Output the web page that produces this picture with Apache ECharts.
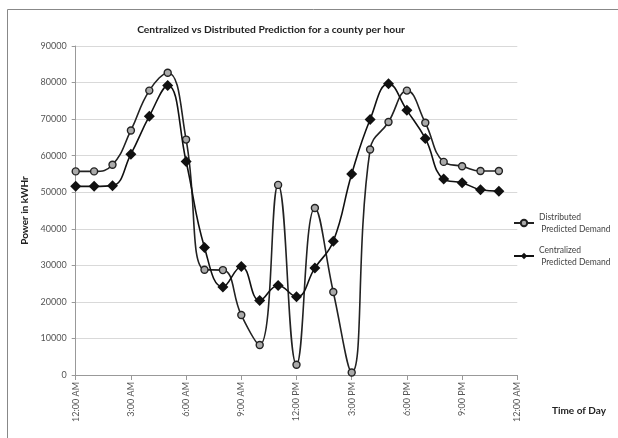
<!DOCTYPE html>
<html>
<head>
<meta charset="utf-8">
<script src="https://cdn.jsdelivr.net/npm/echarts@6/dist/echarts.min.js"></script>
<style>
  html, body { margin: 0; padding: 0; background: #fff; }
  #chart { width: 618px; height: 438px; }
</style>
</head>
<body>
<div id="chart"></div>
<script>
// Hour of day for each sample (0 = midnight)
const hours = [0, 1, 2, 3, 4, 5, 6, 7, 8, 9, 10, 11, 12, 13, 14, 15, 16, 17, 18, 19, 20, 21, 22, 23];

// Predicted demand in kWHr per hour
const distributed = [55700, 55700, 57500, 66900, 77800, 82700, 64400, 28800, 28700, 16400, 8200, 52000,
                     2800, 45700, 22700, 700, 61700, 69200, 77800, 69000, 58300, 57100, 55800, 55800];
const centralized = [51600, 51600, 51800, 60400, 70800, 79200, 58400, 34900, 24100, 29700, 20400, 24500,
                     21400, 29300, 36600, 55000, 69900, 79700, 72400, 64700, 53600, 52600, 50700, 50300];

// Axis tick labels every three hours
const timeLabels = ["12:00 AM", "3:00 AM", "6:00 AM", "9:00 AM", "12:00 PM", "3:00 PM", "6:00 PM", "9:00 PM", "12:00 AM"];

const seriesNames = ['Distributed\n Predicted Demand', 'Centralized\n Predicted Demand'];

const FONT = "Lato, 'Open Sans', sans-serif";

const chart = echarts.init(document.getElementById('chart'), null, { renderer: 'canvas' });

const toPairs = (vals) => hours.map((h, i) => [h, vals[i]]);

chart.setOption({
  animation: false,
  backgroundColor: '#fff',
  title: {
    text: 'Centralized vs Distributed Prediction for a county per hour',
    left: 266,
    top: 20,
    textAlign: 'center',
    textStyle: { fontFamily: FONT, fontSize: 10.3, fontWeight: 'bold', color: '#222' }
  },
  grid: { left: 75.7, right: 100.7, top: 46, bottom: 63, containLabel: false },
  legend: {
    orient: 'vertical',
    left: 513,
    top: 211,
    padding: 0,
    itemWidth: 20,
    itemHeight: 8,
    itemGap: 9,
    textStyle: { fontFamily: FONT, fontSize: 8.5, color: '#444', lineHeight: 12 },
    data: seriesNames
  },
  xAxis: {
    type: 'value',
    min: 0,
    max: 24,
    interval: 3,
    axisLine: { show: true, lineStyle: { color: '#999', width: 1 } },
    axisTick: { show: true, length: 5, lineStyle: { color: '#999' } },
    splitLine: { show: false },
    axisLabel: {
      rotate: 90,
      margin: 7,
      fontFamily: FONT,
      fontSize: 9,
      color: '#555',
      formatter: (v) => timeLabels[Math.round(v / 3)]
    }
  },
  yAxis: {
    type: 'value',
    min: 0,
    max: 90000,
    interval: 10000,
    name: 'Power in kWHr',
    nameLocation: 'middle',
    nameGap: 41.5,
    nameTextStyle: { fontFamily: FONT, fontSize: 10, fontWeight: 'bold', color: '#222' },
    axisLine: { show: true, lineStyle: { color: '#999', width: 1 } },
    axisTick: { show: true, length: 4, lineStyle: { color: '#999' } },
    splitLine: { show: true, lineStyle: { color: '#d9d9d9', width: 1 } },
    axisLabel: {
      margin: 9,
      fontFamily: FONT,
      fontSize: 9,
      color: '#555',
      formatter: (v) => String(v)
    }
  },
  graphic: [
    {
      type: 'polyline',
      silent: true,
      shape: { points: [[7.5, 445], [7.5, 9.5], [630, 9.5]] },
      style: { stroke: '#888', lineWidth: 1, fill: null }
    },
    {
      type: 'text',
      left: 552,
      top: 406,
      style: { text: 'Time of Day', font: "bold 10px " + FONT, fill: '#222' }
    }
  ],
  series: [
    {
      name: seriesNames[0],
      type: 'line',
      smooth: 0.45,
      data: toPairs(distributed),
      symbol: 'circle',
      symbolSize: 7,
      lineStyle: { color: '#222', width: 1.6 },
      itemStyle: { color: '#aaa', borderColor: '#222', borderWidth: 1.4 },
      z: 3
    },
    {
      name: seriesNames[1],
      type: 'line',
      smooth: 0.45,
      data: toPairs(centralized),
      symbol: 'diamond',
      symbolSize: 11,
      lineStyle: { color: '#111', width: 1.6 },
      itemStyle: { color: '#111', borderColor: '#111', borderWidth: 0 },
      z: 4
    }
  ]
});
</script>
</body>
</html>
